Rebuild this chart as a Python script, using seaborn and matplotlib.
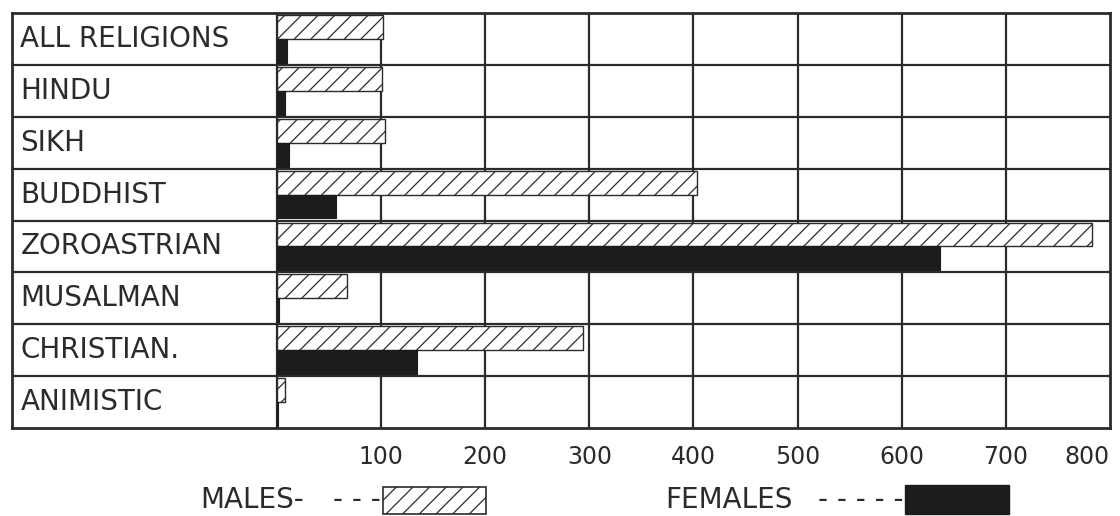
import matplotlib
matplotlib.use("Agg")
import matplotlib.pyplot as plt
from matplotlib.patches import Rectangle
import pandas as pd
import seaborn as sns

# Literates per mille by religion
religions = ["ALL RELIGIONS", "HINDU", "SIKH", "BUDDHIST", "ZOROASTRIAN",
             "MUSALMAN", "CHRISTIAN.", "ANIMISTIC"]
males = [102, 101, 104, 403, 783, 67, 294, 8]
females = [10, 8, 12, 57, 637, 2, 134, 1]
tick_values = [100, 200, 300, 400, 500, 600, 700, 800]

sns.set_theme(style="white")
plt.rcParams["font.family"] = ["DejaVu Sans"]
plt.rcParams["hatch.linewidth"] = 0.9

ink = "#2b2b2b"
dark = "#1c1c1c"

df = pd.DataFrame({
    "religion": religions * 2,
    "value": males + females,
    "sex": ["MALES"] * len(religions) + ["FEMALES"] * len(religions),
})

fig = plt.figure(figsize=(11.2, 5.16), dpi=100)
ax = fig.add_axes([12 / 1120, 88 / 516, 1098 / 1120, 415 / 516])

sns.barplot(data=df, y="religion", x="value", hue="sex", order=religions,
            hue_order=["MALES", "FEMALES"], orient="h", width=0.92,
            palette={"MALES": "white", "FEMALES": dark}, legend=False,
            ax=ax, zorder=3)

for bar in ax.containers[0]:
    bar.set_facecolor("white")
    bar.set_edgecolor(ink)
    bar.set_hatch("//")
    bar.set_linewidth(1.0)
for bar in ax.containers[1]:
    bar.set_facecolor(dark)
    bar.set_edgecolor(dark)
    bar.set_linewidth(0.8)

label_col = -254.5
ax.set_xlim(label_col, 800)
ax.set_ylim(len(religions) - 0.5, -0.5)

# table grid
for v in [0] + tick_values[:-1]:
    ax.axvline(v, color=ink, lw=1.6, zorder=2)
for i in range(len(religions) - 1):
    ax.axhline(i + 0.5, color=ink, lw=1.6, zorder=4)

for i, name in enumerate(religions):
    ax.text(label_col + 8, i, name, ha="left", va="center",
            fontsize=20, color=ink)

ax.set_xticks(tick_values)
ax.set_xticklabels([str(t) for t in tick_values], fontsize=17, color=ink)
ax.get_xticklabels()[-1].set_horizontalalignment("right")
ax.tick_params(axis="x", length=0, pad=12)
ax.set_yticks([])
ax.set_xlabel("")
ax.set_ylabel("")
for s in ax.spines.values():
    s.set_visible(True)
    s.set_color(ink)
    s.set_linewidth(2.0)

# key below the table
key_y = 1 - 500 / 516
fig.text(200 / 1120, key_y, "MALES-", fontsize=20, color=ink,
         ha="left", va="center")
fig.text(381 / 1120, key_y, "- - -", fontsize=20, color=ink,
         ha="right", va="center")
fig.patches.append(Rectangle((383 / 1120, 1 - 514 / 516), 103 / 1120, 27 / 516,
                             transform=fig.transFigure, facecolor="white",
                             edgecolor=ink, hatch="//", lw=1.2))
fig.text(665 / 1120, key_y, "FEMALES", fontsize=20, color=ink,
         ha="left", va="center")
fig.text(904 / 1120, key_y, "- - - - -", fontsize=20, color=ink,
         ha="right", va="center")
fig.patches.append(Rectangle((905 / 1120, 1 - 514 / 516), 104 / 1120, 29 / 516,
                             transform=fig.transFigure, facecolor=dark,
                             edgecolor=dark, lw=1.0))

fig.savefig("out.png", dpi=100, facecolor="white")
